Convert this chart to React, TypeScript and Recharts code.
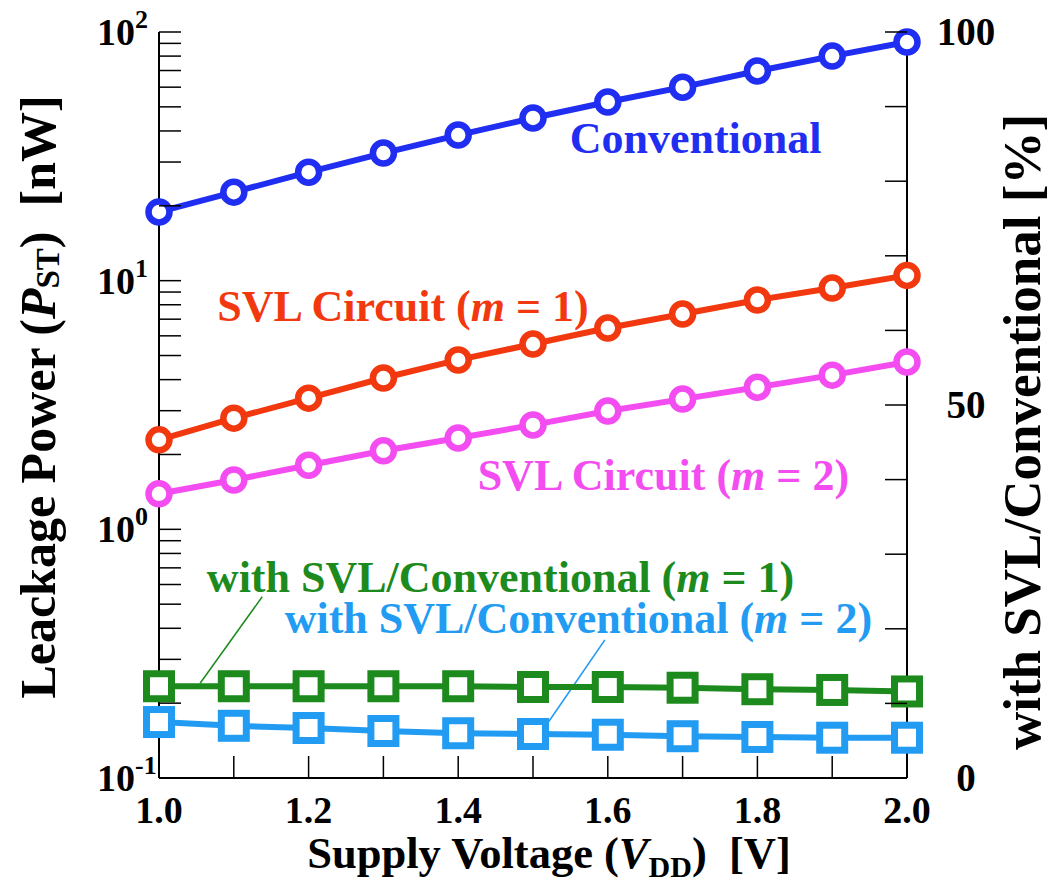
import React from "react";
import {
  LineChart,
  Line,
  XAxis,
  YAxis,
  ReferenceLine,
  ReferenceDot,
} from "recharts";

// supply voltage [V]
const voltage = [1.0, 1.1, 1.2, 1.3, 1.4, 1.5, 1.6, 1.7, 1.8, 1.9, 2.0];
// leakage power [nW] (left, log axis)
const conventional = [18.9, 22.7, 27.3, 32.6, 38.5, 45.1, 52.3, 60.0, 69.7, 80.0, 91.1];
const svlM1 = [2.29, 2.8, 3.37, 4.06, 4.8, 5.56, 6.45, 7.34, 8.36, 9.34, 10.5];
const svlM2 = [1.39, 1.58, 1.81, 2.07, 2.33, 2.63, 2.99, 3.34, 3.73, 4.17, 4.71];
// with SVL / conventional [%] (right axis)
const ratioM1 = [12.3, 12.3, 12.3, 12.3, 12.3, 12.2, 12.2, 12.1, 11.9, 11.8, 11.6];
const ratioM2 = [7.5, 7.0, 6.7, 6.3, 6.0, 5.9, 5.8, 5.6, 5.5, 5.4, 5.4];

const xTicks = [1.0, 1.1, 1.2, 1.3, 1.4, 1.5, 1.6, 1.7, 1.8, 1.9, 2.0];
const xLabelled = [1.0, 1.2, 1.4, 1.6, 1.8, 2.0];
const logTicks = [
  0.1, 0.2, 0.3, 0.4, 0.5, 0.6, 0.7, 0.8, 0.9,
  1, 2, 3, 4, 5, 6, 7, 8, 9,
  10, 20, 30, 40, 50, 60, 70, 80, 90, 100,
];
const logDecades = [0.1, 1, 10, 100];
const pctTicks = [0, 10, 20, 30, 40, 50, 60, 70, 80, 90, 100];
const pctLabelled = [0, 50, 100];

const data = voltage.map((v, i) => ({
  v,
  conv: conventional[i],
  m1: svlM1[i],
  m2: svlM2[i],
  r1: ratioM1[i],
  r2: ratioM2[i],
}));

const FONT = "Liberation Serif, DejaVu Serif, serif";
const C_CONV = "#1f2ef0";
const C_M1 = "#f2380f";
const C_M2 = "#f34cf0";
const C_R1 = "#1c8a1c";
const C_R2 = "#229bf2";
const TICK = 22;

const txt = (size: number, color = "#000") => ({
  fontFamily: FONT,
  fontWeight: 700,
  fontSize: size,
  fill: color,
  whiteSpace: "pre" as const,
});

const BottomTick = (p: any) => {
  const { x, y, payload } = p;
  const v = payload.value;
  const lab = xLabelled.some((t) => Math.abs(t - v) < 1e-6);
  return (
    <g>
      <line x1={x} y1={y} x2={x} y2={y - TICK} stroke="#000" strokeWidth={1.5} />
      {lab && (
        <text x={x} y={y + 45} textAnchor="middle" style={txt(38)}>
          {v.toFixed(1)}
        </text>
      )}
    </g>
  );
};

const TopTick = (p: any) => {
  const { x, y } = p;
  return <line x1={x} y1={y} x2={x} y2={y + TICK} stroke="#000" strokeWidth={1.5} />;
};

const LeftTick = (p: any) => {
  const { x, y, payload } = p;
  const v = payload.value;
  const major = logDecades.some((t) => Math.abs(t - v) < 1e-9);
  const exp = Math.round(Math.log10(v));
  return (
    <g>
      <line x1={x} y1={y} x2={x + TICK} y2={y} stroke="#000" strokeWidth={1.5} />
      {major && (
        <text x={x - 62} y={y + 13} style={txt(38)}>
          <tspan>10</tspan>
          <tspan dy={-17} style={{ fontSize: 26 }}>{exp}</tspan>
        </text>
      )}
    </g>
  );
};

const RightTick = (p: any) => {
  const { x, y, payload } = p;
  const v = payload.value;
  const lab = pctLabelled.includes(v);
  return (
    <g>
      <line x1={x} y1={y} x2={x - TICK} y2={y} stroke="#000" strokeWidth={1.5} />
      {lab && (
        <text x={x + 59} y={y + 13} textAnchor="middle" style={txt(39)}>
          {v}
        </text>
      )}
    </g>
  );
};

const SquareDot = (color: string) => (p: any) => {
  const { cx, cy, index } = p;
  if (cx == null || cy == null) return <g key={index} />;
  const s = 12.5;
  return (
    <rect
      key={index}
      x={cx - s}
      y={cy - s}
      width={2 * s}
      height={2 * s}
      fill="#fff"
      stroke={color}
      strokeWidth={7}
    />
  );
};

// annotation labels, anchored in (voltage, % of right axis)
const notes = [
  { x: 1.549, y: 83.8, color: C_CONV, text: "Conventional", m: "" },
  { x: 1.078, y: 61.3, color: C_M1, text: "SVL Circuit (", m: "1" },
  { x: 1.426, y: 38.6, color: C_M2, text: "SVL Circuit (", m: "2" },
  { x: 1.064, y: 24.9, color: C_R1, text: "with SVL/Conventional (", m: "1" },
  { x: 1.168, y: 19.4, color: C_R2, text: "with SVL/Conventional (", m: "2" },
];

const noteLabel = (n: (typeof notes)[number]) => (props: any) => {
  const vb = props.viewBox || {};
  const x = vb.cx ?? vb.x;
  const y = vb.cy ?? vb.y;
  return (
    <text x={x} y={y} style={txt(44, n.color)}>
      <tspan>{n.text}</tspan>
      {n.m && (
        <>
          <tspan style={{ fontStyle: "italic" }}>m</tspan>
          <tspan>{" = " + n.m + ")"}</tspan>
        </>
      )}
    </text>
  );
};

const leftTitle = (props: any) => {
  const vb = props.viewBox;
  const cx = vb.x + vb.width - 121;
  const cy = vb.y + vb.height / 2 - 8;
  return (
    <text
      x={cx}
      y={cy}
      transform={`rotate(-90, ${cx}, ${cy})`}
      textAnchor="middle"
      dominantBaseline="central"
      style={txt(50)}
    >
      <tspan>Leackage Power (</tspan>
      <tspan style={{ fontStyle: "italic" }}>P</tspan>
      <tspan style={{ fontSize: 33 }} dy={10}>ST</tspan>
      <tspan dy={-10}>)  [nW]</tspan>
    </text>
  );
};

const rightTitle = (props: any) => {
  const vb = props.viewBox;
  const cx = vb.x + 115;
  const cy = vb.y + vb.height / 2 + 27;
  return (
    <text
      x={cx}
      y={cy}
      transform={`rotate(-90, ${cx}, ${cy})`}
      textAnchor="middle"
      dominantBaseline="central"
      style={txt(53)}
    >
      with SVL/Conventional [%]
    </text>
  );
};

const bottomTitle = (props: any) => {
  const vb = props.viewBox;
  const cx = vb.x + vb.width / 2 + 16;
  const y = vb.y + 90;
  return (
    <text x={cx} y={y} textAnchor="middle" style={txt(44.5)}>
      <tspan>Supply Voltage (</tspan>
      <tspan style={{ fontStyle: "italic" }}>V</tspan>
      <tspan style={{ fontSize: 30 }} dy={9}>DD</tspan>
      <tspan dy={-9}>)  [V]</tspan>
    </text>
  );
};

const circleDot = (color: string) => ({ r: 10.5, fill: "#fff", stroke: color, strokeWidth: 6.5 });

export default function App() {
  return (
    <div style={{ position: "absolute", left: 0, top: 0, background: "#fff" }}>
      <LineChart
        width={1051}
        height={888}
        data={data}
        margin={{ top: 32, right: 44, bottom: 10, left: 59 }}
      >
        <XAxis
          xAxisId="b"
          dataKey="v"
          type="number"
          domain={[1, 2]}
          ticks={xTicks}
          interval={0}
          height={100}
          tickSize={0}
          tickMargin={0}
          tickLine={false}
          axisLine={{ stroke: "#000", strokeWidth: 2 }}
          tick={<BottomTick />}
          label={{ content: bottomTitle }}
        />
        <XAxis
          xAxisId="t"
          orientation="top"
          dataKey="v"
          type="number"
          domain={[1, 2]}
          ticks={xTicks}
          interval={0}
          height={0}
          tickSize={0}
          tickMargin={0}
          tickLine={false}
          axisLine={{ stroke: "#000", strokeWidth: 2 }}
          tick={<TopTick />}
        />
        <YAxis
          yAxisId="left"
          scale="log"
          type="number"
          domain={[0.1, 100]}
          ticks={logTicks}
          interval={0}
          width={100}
          tickSize={0}
          tickMargin={0}
          tickLine={false}
          axisLine={{ stroke: "#000", strokeWidth: 2 }}
          tick={<LeftTick />}
          label={{ content: leftTitle }}
        />
        <YAxis
          yAxisId="right"
          orientation="right"
          type="number"
          domain={[0, 100]}
          ticks={pctTicks}
          interval={0}
          width={100}
          tickSize={0}
          tickMargin={0}
          tickLine={false}
          axisLine={{ stroke: "#000", strokeWidth: 2 }}
          tick={<RightTick />}
          label={{ content: rightTitle }}
        />

        <ReferenceLine
          xAxisId="b"
          yAxisId="right"
          segment={[{ x: 1.055, y: 12.7 }, { x: 1.138, y: 24.3 }]}
          stroke={C_R1}
          strokeWidth={1.5}
        />
        <ReferenceLine
          xAxisId="b"
          yAxisId="right"
          segment={[{ x: 1.52, y: 7.4 }, { x: 1.596, y: 18.5 }]}
          stroke={C_R2}
          strokeWidth={1.5}
        />

        <Line xAxisId="b" yAxisId="left" type="linear" dataKey="conv" stroke={C_CONV} strokeWidth={6}
          dot={circleDot(C_CONV)} isAnimationActive={false} />
        <Line xAxisId="b" yAxisId="left" type="linear" dataKey="m1" stroke={C_M1} strokeWidth={6}
          dot={circleDot(C_M1)} isAnimationActive={false} />
        <Line xAxisId="b" yAxisId="left" type="linear" dataKey="m2" stroke={C_M2} strokeWidth={6}
          dot={circleDot(C_M2)} isAnimationActive={false} />
        <Line xAxisId="b" yAxisId="right" type="linear" dataKey="r1" stroke={C_R1} strokeWidth={6}
          dot={SquareDot(C_R1)} isAnimationActive={false} />
        <Line xAxisId="b" yAxisId="right" type="linear" dataKey="r2" stroke={C_R2} strokeWidth={6}
          dot={SquareDot(C_R2)} isAnimationActive={false} />

        {notes.map((n, i) => (
          <ReferenceDot
            key={i}
            xAxisId="b"
            yAxisId="right"
            x={n.x}
            y={n.y}
            r={0}
            fill="none"
            stroke="none"
            label={{ content: noteLabel(n) }}
          />
        ))}
      </LineChart>
    </div>
  );
}
